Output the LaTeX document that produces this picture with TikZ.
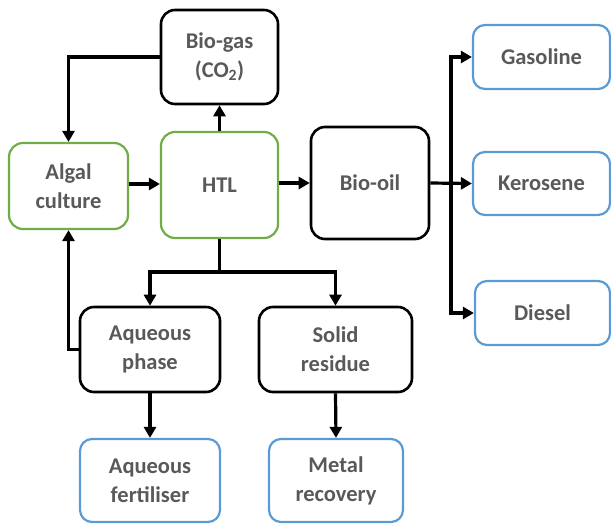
\documentclass[tikz,border=0pt]{standalone}
\usepackage{fontspec}
\setmainfont{Carlito}
\usetikzlibrary{arrows.meta}
\definecolor{txtgray}{HTML}{595959}
\definecolor{boxgreen}{HTML}{70AD47}
\definecolor{boxblue}{HTML}{5B9BD5}
\tikzset{
  box/.style={draw, rounded corners=14pt, align=center, inner sep=0pt,
    text=txtgray, font=\fontsize{22.5}{29}\selectfont\bfseries},
  procbox/.style={box, draw=black, line width=2.6pt},
  feedbox/.style={box, draw=boxgreen, line width=2.2pt},
  prodbox/.style={box, draw=boxblue, line width=2.2pt, rounded corners=12pt},
  flow/.style={line width=3.2pt, -{Triangle[length=11pt,width=12pt]}},
  plain/.style={line width=3.2pt}
}
\begin{document}
\begin{tikzpicture}[x=1pt,y=-1pt]
\useasboundingbox (0,0) rectangle (611,523);
% process units
\node[procbox, minimum width=117pt, minimum height=94pt] (biogas) at (219.5,57) {Bio-gas\\(CO\textsubscript{2})};
\node[feedbox, minimum width=117pt, minimum height=106pt] (htl) at (219.5,185) {HTL};
\node[feedbox, minimum width=119pt, minimum height=86pt] (algal) at (68.5,186) {Algal\\culture};
\node[procbox, minimum width=118pt, minimum height=112pt] (biooil) at (370,183) {Bio-oil};
\node[procbox, minimum width=140pt, minimum height=85pt] (aqueous) at (150,349.5) {Aqueous\\phase};
\node[procbox, minimum width=153pt, minimum height=85pt] (solid) at (335.5,349.5) {Solid\\residue};
% products
\node[prodbox, minimum width=137pt, minimum height=64pt] (gasoline) at (541.5,57) {Gasoline};
\node[prodbox, minimum width=137pt, minimum height=63pt] (kerosene) at (541.5,183.5) {Kerosene};
\node[prodbox, minimum width=135pt, minimum height=64pt] (diesel) at (542.5,313) {Diesel};
\node[prodbox, minimum width=140pt, minimum height=83pt] (fert) at (150,480.5) {Aqueous\\fertiliser};
\node[prodbox, minimum width=134pt, minimum height=83pt] (metal) at (336,480.5) {Metal\\recovery};
% junctions
\coordinate (split) at (451,183);
\coordinate (branch) at (219.5,272);
% connectors
\draw[flow] (algal.east |- 0,184) -- (htl.west |- 0,184);
\draw[flow] (htl.north) -- (biogas.south);
\draw[flow] (htl.east |- 0,183) -- (biooil.west |- 0,183);
\draw[flow] (biogas.west) -| (algal.north);
\draw[flow] (aqueous.west) -| (algal.south);
\draw[flow] (biooil.east) -- (kerosene.west);
\draw[flow] (split) |- (gasoline.west);
\draw[flow] (split) |- (diesel.west);
\draw[plain] (htl.south) -- (branch);
\draw[flow] (branch) -| (aqueous.north);
\draw[flow] (branch) -| (solid.north);
\draw[flow] (aqueous.south) -- (fert.north);
\draw[flow] (solid.south) -- (metal.north);
\end{tikzpicture}
\end{document}
